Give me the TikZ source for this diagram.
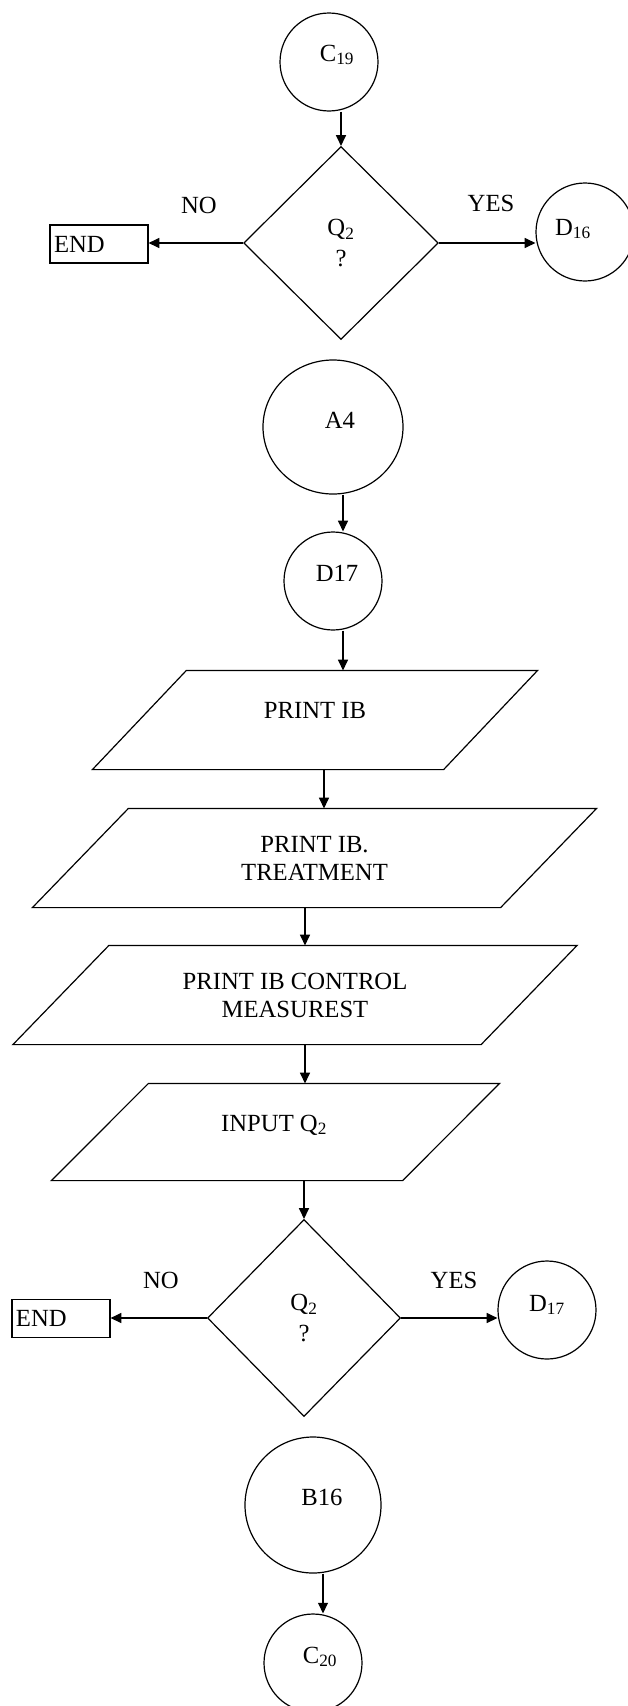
\documentclass[tikz,border=0pt]{standalone}
\usepackage{fontspec}
\setmainfont{Liberation Serif}
\usetikzlibrary{shapes.geometric,arrows.meta}
\newcommand\offtxt[3]{\makebox[0pt]{\hspace*{#1}\hspace*{#1}\raisebox{\dimexpr#2-0.33em\relax}[0pt][0pt]{#3}}}
\begin{document}
\begin{tikzpicture}[x=0.75pt,y=-0.75pt,
  font=\fontsize{18.5}{21}\selectfont, line width=0.9pt,
  circ/.style={draw, circle, inner sep=0pt, minimum size=73.5pt},
  bigcirc/.style={draw, ellipse, inner sep=0pt, minimum width=105pt, minimum height=100.5pt},
  decis/.style={draw, diamond, inner sep=0pt, align=center, font=\fontsize{18.5}{23}\selectfont},
  endbox/.style={draw, rectangle, minimum width=73.5pt, minimum height=28.5pt, text width=67.5pt, align=left, inner xsep=3pt, inner ysep=0pt},
  iobox/.style={rectangle, inner sep=0pt, minimum height=73.5pt, align=center},
  lbl/.style={inner sep=0pt},
  arr/.style={-{Triangle[length=8pt,width=7.5pt]}}]
\useasboundingbox (0,0) rectangle (628,1706);

% ---------- top part ----------
\node[circ] (c19) at (329,62) {\offtxt{6pt}{6.75pt}{C\textsubscript{19}}};
\node[decis, minimum width=146pt, minimum height=144.75pt] (d1) at (341,243) {Q\textsubscript{2}\\?};
\node[endbox] (end1) at (99,244) {END};
\node[circ] (d16) at (585,232) {\offtxt{-9pt}{3.75pt}{D\textsubscript{16}}};
\node[lbl] (no1) at (199,205) {NO};
\node[lbl] (yes1) at (491,203) {YES};

\draw[arr] (c19.south -| d1.north) -- (d1.north);
\draw[arr] (d1.west) -- (d1.west -| end1.east);
\draw[arr] (d1.east) -- (d1.east -| d16.west);

% ---------- middle part ----------
\node[bigcirc] (a4) at (333,427) {\offtxt{5.25pt}{5.25pt}{A4}};
\node[circ] (d17) at (333,581) {\offtxt{3pt}{6pt}{D17}};

\node[iobox, minimum width=262.5pt] (p1) at (315,720) {\offtxt{0pt}{7.5pt}{PRINT IB}};
\node[iobox, minimum width=350.25pt] (p2) at (314.5,858) {PRINT IB.\\TREATMENT};
\node[iobox, minimum width=350.25pt] (p3) at (295,995) {PRINT IB CONTROL\\MEASUREST};
\node[iobox, minimum width=262.5pt, minimum height=72pt] (p4) at (275.5,1132) {\offtxt{-1pt}{6.75pt}{INPUT Q\textsubscript{2}}};

\foreach \p/\s in {p1/35.25pt,p2/36pt,p3/36pt,p4/36.4pt}{
  \draw ([xshift=-\s]\p.south west) -- ([xshift=-\s]\p.south east)
     -- ([xshift=\s]\p.north east) -- ([xshift=\s]\p.north west) -- cycle;
}

\draw[arr] ([xshift=7.5pt]a4.south) -- ([xshift=7.5pt]a4.south |- d17.north);
\draw[arr] ([xshift=7.5pt]d17.south) -- ([xshift=7.5pt]d17.south |- p1.north);
\draw[arr] ([xshift=6.75pt]p1.south) -- ([xshift=6.75pt]p1.south |- p2.north);
\draw[arr] ([xshift=7.5pt]p3.north |- p2.south) -- ([xshift=7.5pt]p3.north);
\draw[arr] ([xshift=7.5pt]p3.south) -- ([xshift=7.5pt]p3.south |- p4.north);

% ---------- bottom part ----------
\node[decis, minimum width=144.75pt, minimum height=147.75pt] (d2) at (304,1318) {Q\textsubscript{2}\\?};
\node[endbox] (end2) at (61,1318.5) {END};
\node[circ] (d17b) at (547,1310) {\offtxt{0pt}{5.25pt}{D\textsubscript{17}}};
\node[lbl] (no2) at (161,1280) {NO};
\node[lbl] (yes2) at (454,1280) {YES};

\draw[arr] (p4.south -| d2.north) -- (d2.north);
\draw[arr] (d2.west) -- (d2.west -| end2.east);
\draw[arr] (d2.east) -- (d2.east -| d17b.west);

\node[bigcirc, minimum width=102pt, minimum height=102pt] (b16) at (313,1505) {\offtxt{6.75pt}{6pt}{B16}};
\node[circ] (c20) at (313,1663) {\offtxt{5.25pt}{6pt}{C\textsubscript{20}}};
\draw[arr] ([xshift=7.5pt]b16.south) -- ([xshift=7.5pt]b16.south |- c20.north);
\end{tikzpicture}
\end{document}
